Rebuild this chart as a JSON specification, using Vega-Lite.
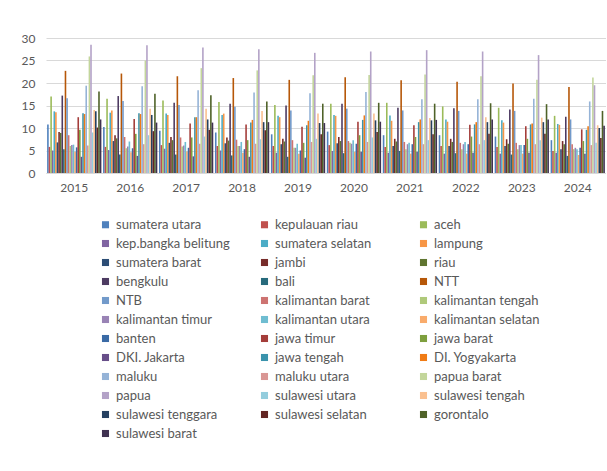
{
"$schema": "https://vega.github.io/schema/vega-lite/v6.json",
"width": 560, "height": 135,
"autosize": {"type": "pad"},
"padding": {"left": 21, "top": 32, "right": 0, "bottom": 0},
"background": "white",
"config": {"view": {"stroke": null}, "font": "Lato"},
"data": {"values": [
{"year":"2015","prov":"sumatera utara","val":10.8},{"year":"2016","prov":"sumatera utara","val":10.2},{"year":"2017","prov":"sumatera utara","val":9.4},{"year":"2018","prov":"sumatera utara","val":9.0},{"year":"2019","prov":"sumatera utara","val":8.6},{"year":"2020","prov":"sumatera utara","val":9.2},{"year":"2021","prov":"sumatera utara","val":8.4},{"year":"2022","prov":"sumatera utara","val":8.4},{"year":"2023","prov":"sumatera utara","val":8.1},{"year":"2024","prov":"sumatera utara","val":7.3},
{"year":"2015","prov":"kepulauan riau","val":5.8},{"year":"2016","prov":"kepulauan riau","val":5.8},{"year":"2017","prov":"kepulauan riau","val":6.2},{"year":"2018","prov":"kepulauan riau","val":6.0},{"year":"2019","prov":"kepulauan riau","val":6.0},{"year":"2020","prov":"kepulauan riau","val":6.2},{"year":"2021","prov":"kepulauan riau","val":5.8},{"year":"2022","prov":"kepulauan riau","val":6.0},{"year":"2023","prov":"kepulauan riau","val":5.8},{"year":"2024","prov":"kepulauan riau","val":4.9},
{"year":"2015","prov":"aceh","val":17.0},{"year":"2016","prov":"aceh","val":16.5},{"year":"2017","prov":"aceh","val":16.1},{"year":"2018","prov":"aceh","val":15.8},{"year":"2019","prov":"aceh","val":15.1},{"year":"2020","prov":"aceh","val":15.4},{"year":"2021","prov":"aceh","val":15.6},{"year":"2022","prov":"aceh","val":14.8},{"year":"2023","prov":"aceh","val":14.5},{"year":"2024","prov":"aceh","val":12.7},
{"year":"2015","prov":"kep.bangka belitung","val":5.0},{"year":"2016","prov":"kep.bangka belitung","val":5.1},{"year":"2017","prov":"kep.bangka belitung","val":5.4},{"year":"2018","prov":"kep.bangka belitung","val":5.0},{"year":"2019","prov":"kep.bangka belitung","val":4.5},{"year":"2020","prov":"kep.bangka belitung","val":4.9},{"year":"2021","prov":"kep.bangka belitung","val":4.5},{"year":"2022","prov":"kep.bangka belitung","val":4.3},{"year":"2023","prov":"kep.bangka belitung","val":4.3},{"year":"2024","prov":"kep.bangka belitung","val":4.5},
{"year":"2015","prov":"sumatera selatan","val":13.7},{"year":"2016","prov":"sumatera selatan","val":13.4},{"year":"2017","prov":"sumatera selatan","val":13.2},{"year":"2018","prov":"sumatera selatan","val":12.9},{"year":"2019","prov":"sumatera selatan","val":12.7},{"year":"2020","prov":"sumatera selatan","val":12.9},{"year":"2021","prov":"sumatera selatan","val":12.8},{"year":"2022","prov":"sumatera selatan","val":11.9},{"year":"2023","prov":"sumatera selatan","val":11.7},{"year":"2024","prov":"sumatera selatan","val":10.9},
{"year":"2015","prov":"lampung","val":13.5},{"year":"2016","prov":"lampung","val":13.9},{"year":"2017","prov":"lampung","val":12.9},{"year":"2018","prov":"lampung","val":13.2},{"year":"2019","prov":"lampung","val":12.4},{"year":"2020","prov":"lampung","val":12.7},{"year":"2021","prov":"lampung","val":11.6},{"year":"2022","prov":"lampung","val":11.4},{"year":"2023","prov":"lampung","val":11.2},{"year":"2024","prov":"lampung","val":10.7},
{"year":"2015","prov":"sumatera barat","val":6.8},{"year":"2016","prov":"sumatera barat","val":7.1},{"year":"2017","prov":"sumatera barat","val":6.7},{"year":"2018","prov":"sumatera barat","val":6.6},{"year":"2019","prov":"sumatera barat","val":6.4},{"year":"2020","prov":"sumatera barat","val":6.6},{"year":"2021","prov":"sumatera barat","val":6.0},{"year":"2022","prov":"sumatera barat","val":6.0},{"year":"2023","prov":"sumatera barat","val":6.0},{"year":"2024","prov":"sumatera barat","val":5.3},
{"year":"2015","prov":"jambi","val":9.1},{"year":"2016","prov":"jambi","val":8.4},{"year":"2017","prov":"jambi","val":8.0},{"year":"2018","prov":"jambi","val":7.9},{"year":"2019","prov":"jambi","val":7.6},{"year":"2020","prov":"jambi","val":8.0},{"year":"2021","prov":"jambi","val":7.6},{"year":"2022","prov":"jambi","val":7.6},{"year":"2023","prov":"jambi","val":7.5},{"year":"2024","prov":"jambi","val":7.1},
{"year":"2015","prov":"riau","val":8.9},{"year":"2016","prov":"riau","val":7.7},{"year":"2017","prov":"riau","val":7.3},{"year":"2018","prov":"riau","val":7.2},{"year":"2019","prov":"riau","val":7.0},{"year":"2020","prov":"riau","val":7.1},{"year":"2021","prov":"riau","val":7.0},{"year":"2022","prov":"riau","val":6.9},{"year":"2023","prov":"riau","val":6.5},{"year":"2024","prov":"riau","val":6.4},
{"year":"2015","prov":"bengkulu","val":17.2},{"year":"2016","prov":"bengkulu","val":17.1},{"year":"2017","prov":"bengkulu","val":15.6},{"year":"2018","prov":"bengkulu","val":15.4},{"year":"2019","prov":"bengkulu","val":15.0},{"year":"2020","prov":"bengkulu","val":15.4},{"year":"2021","prov":"bengkulu","val":14.5},{"year":"2022","prov":"bengkulu","val":14.4},{"year":"2023","prov":"bengkulu","val":14.1},{"year":"2024","prov":"bengkulu","val":12.5},
{"year":"2015","prov":"bali","val":5.3},{"year":"2016","prov":"bali","val":4.1},{"year":"2017","prov":"bali","val":4.1},{"year":"2018","prov":"bali","val":3.9},{"year":"2019","prov":"bali","val":3.6},{"year":"2020","prov":"bali","val":4.4},{"year":"2021","prov":"bali","val":4.9},{"year":"2022","prov":"bali","val":4.4},{"year":"2023","prov":"bali","val":4.1},{"year":"2024","prov":"bali","val":3.8},
{"year":"2015","prov":"NTT","val":22.7},{"year":"2016","prov":"NTT","val":22.1},{"year":"2017","prov":"NTT","val":21.5},{"year":"2018","prov":"NTT","val":21.1},{"year":"2019","prov":"NTT","val":20.7},{"year":"2020","prov":"NTT","val":21.3},{"year":"2021","prov":"NTT","val":20.6},{"year":"2022","prov":"NTT","val":20.3},{"year":"2023","prov":"NTT","val":19.9},{"year":"2024","prov":"NTT","val":19.1},
{"year":"2015","prov":"NTB","val":16.6},{"year":"2016","prov":"NTB","val":16.0},{"year":"2017","prov":"NTB","val":15.1},{"year":"2018","prov":"NTB","val":14.7},{"year":"2019","prov":"NTB","val":13.9},{"year":"2020","prov":"NTB","val":14.3},{"year":"2021","prov":"NTB","val":13.9},{"year":"2022","prov":"NTB","val":13.8},{"year":"2023","prov":"NTB","val":13.8},{"year":"2024","prov":"NTB","val":11.9},
{"year":"2015","prov":"kalimantan barat","val":8.4},{"year":"2016","prov":"kalimantan barat","val":8.0},{"year":"2017","prov":"kalimantan barat","val":7.9},{"year":"2018","prov":"kalimantan barat","val":7.4},{"year":"2019","prov":"kalimantan barat","val":7.3},{"year":"2020","prov":"kalimantan barat","val":7.1},{"year":"2021","prov":"kalimantan barat","val":6.9},{"year":"2022","prov":"kalimantan barat","val":6.7},{"year":"2023","prov":"kalimantan barat","val":6.7},{"year":"2024","prov":"kalimantan barat","val":6.4},
{"year":"2015","prov":"kalimantan tengah","val":6.0},{"year":"2016","prov":"kalimantan tengah","val":5.5},{"year":"2017","prov":"kalimantan tengah","val":5.9},{"year":"2018","prov":"kalimantan tengah","val":6.0},{"year":"2019","prov":"kalimantan tengah","val":5.6},{"year":"2020","prov":"kalimantan tengah","val":6.7},{"year":"2021","prov":"kalimantan tengah","val":5.3},{"year":"2022","prov":"kalimantan tengah","val":5.3},{"year":"2023","prov":"kalimantan tengah","val":5.3},{"year":"2024","prov":"kalimantan tengah","val":5.3},
{"year":"2015","prov":"kalimantan timur","val":6.2},{"year":"2016","prov":"kalimantan timur","val":5.9},{"year":"2017","prov":"kalimantan timur","val":6.1},{"year":"2018","prov":"kalimantan timur","val":6.0},{"year":"2019","prov":"kalimantan timur","val":5.6},{"year":"2020","prov":"kalimantan timur","val":6.5},{"year":"2021","prov":"kalimantan timur","val":6.4},{"year":"2022","prov":"kalimantan timur","val":6.4},{"year":"2023","prov":"kalimantan timur","val":6.2},{"year":"2024","prov":"kalimantan timur","val":5.6},
{"year":"2015","prov":"kalimantan utara","val":6.3},{"year":"2016","prov":"kalimantan utara","val":7.0},{"year":"2017","prov":"kalimantan utara","val":6.9},{"year":"2018","prov":"kalimantan utara","val":6.9},{"year":"2019","prov":"kalimantan utara","val":6.5},{"year":"2020","prov":"kalimantan utara","val":7.3},{"year":"2021","prov":"kalimantan utara","val":6.7},{"year":"2022","prov":"kalimantan utara","val":6.9},{"year":"2023","prov":"kalimantan utara","val":6.2},{"year":"2024","prov":"kalimantan utara","val":5.3},
{"year":"2015","prov":"kalimantan selatan","val":4.7},{"year":"2016","prov":"kalimantan selatan","val":4.6},{"year":"2017","prov":"kalimantan selatan","val":4.8},{"year":"2018","prov":"kalimantan selatan","val":4.5},{"year":"2019","prov":"kalimantan selatan","val":4.3},{"year":"2020","prov":"kalimantan selatan","val":4.7},{"year":"2021","prov":"kalimantan selatan","val":4.3},{"year":"2022","prov":"kalimantan selatan","val":4.3},{"year":"2023","prov":"kalimantan selatan","val":4.3},{"year":"2024","prov":"kalimantan selatan","val":4.0},
{"year":"2015","prov":"banten","val":5.7},{"year":"2016","prov":"banten","val":5.5},{"year":"2017","prov":"banten","val":5.6},{"year":"2018","prov":"banten","val":5.3},{"year":"2019","prov":"banten","val":5.0},{"year":"2020","prov":"banten","val":6.5},{"year":"2021","prov":"banten","val":6.4},{"year":"2022","prov":"banten","val":6.4},{"year":"2023","prov":"banten","val":6.2},{"year":"2024","prov":"banten","val":5.6},
{"year":"2015","prov":"jawa timur","val":12.4},{"year":"2016","prov":"jawa timur","val":12.0},{"year":"2017","prov":"jawa timur","val":11.0},{"year":"2018","prov":"jawa timur","val":10.8},{"year":"2019","prov":"jawa timur","val":10.3},{"year":"2020","prov":"jawa timur","val":11.4},{"year":"2021","prov":"jawa timur","val":10.6},{"year":"2022","prov":"jawa timur","val":10.7},{"year":"2023","prov":"jawa timur","val":10.4},{"year":"2024","prov":"jawa timur","val":9.7},
{"year":"2015","prov":"jawa barat","val":9.6},{"year":"2016","prov":"jawa barat","val":8.7},{"year":"2017","prov":"jawa barat","val":7.9},{"year":"2018","prov":"jawa barat","val":7.3},{"year":"2019","prov":"jawa barat","val":6.7},{"year":"2020","prov":"jawa barat","val":8.4},{"year":"2021","prov":"jawa barat","val":8.0},{"year":"2022","prov":"jawa barat","val":8.1},{"year":"2023","prov":"jawa barat","val":7.6},{"year":"2024","prov":"jawa barat","val":7.1},
{"year":"2015","prov":"DKI. Jakarta","val":3.6},{"year":"2016","prov":"DKI. Jakarta","val":3.8},{"year":"2017","prov":"DKI. Jakarta","val":3.7},{"year":"2018","prov":"DKI. Jakarta","val":3.6},{"year":"2019","prov":"DKI. Jakarta","val":3.4},{"year":"2020","prov":"DKI. Jakarta","val":4.7},{"year":"2021","prov":"DKI. Jakarta","val":4.7},{"year":"2022","prov":"DKI. Jakarta","val":4.5},{"year":"2023","prov":"DKI. Jakarta","val":4.5},{"year":"2024","prov":"DKI. Jakarta","val":4.3},
{"year":"2015","prov":"jawa tengah","val":13.3},{"year":"2016","prov":"jawa tengah","val":13.3},{"year":"2017","prov":"jawa tengah","val":12.4},{"year":"2018","prov":"jawa tengah","val":11.2},{"year":"2019","prov":"jawa tengah","val":10.6},{"year":"2020","prov":"jawa tengah","val":11.8},{"year":"2021","prov":"jawa tengah","val":11.3},{"year":"2022","prov":"jawa tengah","val":10.8},{"year":"2023","prov":"jawa tengah","val":10.8},{"year":"2024","prov":"jawa tengah","val":9.6},
{"year":"2015","prov":"DI. Yogyakarta","val":13.1},{"year":"2016","prov":"DI. Yogyakarta","val":13.1},{"year":"2017","prov":"DI. Yogyakarta","val":12.4},{"year":"2018","prov":"DI. Yogyakarta","val":11.8},{"year":"2019","prov":"DI. Yogyakarta","val":11.6},{"year":"2020","prov":"DI. Yogyakarta","val":12.8},{"year":"2021","prov":"DI. Yogyakarta","val":11.9},{"year":"2022","prov":"DI. Yogyakarta","val":11.3},{"year":"2023","prov":"DI. Yogyakarta","val":11.0},{"year":"2024","prov":"DI. Yogyakarta","val":10.4},
{"year":"2015","prov":"maluku","val":19.4},{"year":"2016","prov":"maluku","val":19.3},{"year":"2017","prov":"maluku","val":18.4},{"year":"2018","prov":"maluku","val":17.9},{"year":"2019","prov":"maluku","val":17.7},{"year":"2020","prov":"maluku","val":18.0},{"year":"2021","prov":"maluku","val":16.4},{"year":"2022","prov":"maluku","val":16.4},{"year":"2023","prov":"maluku","val":16.5},{"year":"2024","prov":"maluku","val":15.9},
{"year":"2015","prov":"maluku utara","val":6.1},{"year":"2016","prov":"maluku utara","val":6.4},{"year":"2017","prov":"maluku utara","val":6.5},{"year":"2018","prov":"maluku utara","val":6.5},{"year":"2019","prov":"maluku utara","val":6.9},{"year":"2020","prov":"maluku utara","val":6.9},{"year":"2021","prov":"maluku utara","val":6.4},{"year":"2022","prov":"maluku utara","val":6.4},{"year":"2023","prov":"maluku utara","val":6.4},{"year":"2024","prov":"maluku utara","val":6.2},
{"year":"2015","prov":"papua barat","val":25.9},{"year":"2016","prov":"papua barat","val":25.0},{"year":"2017","prov":"papua barat","val":23.3},{"year":"2018","prov":"papua barat","val":22.8},{"year":"2019","prov":"papua barat","val":21.7},{"year":"2020","prov":"papua barat","val":21.8},{"year":"2021","prov":"papua barat","val":21.9},{"year":"2022","prov":"papua barat","val":21.5},{"year":"2023","prov":"papua barat","val":20.7},{"year":"2024","prov":"papua barat","val":21.2},
{"year":"2015","prov":"papua","val":28.5},{"year":"2016","prov":"papua","val":28.4},{"year":"2017","prov":"papua","val":27.9},{"year":"2018","prov":"papua","val":27.5},{"year":"2019","prov":"papua","val":26.7},{"year":"2020","prov":"papua","val":27.0},{"year":"2021","prov":"papua","val":27.3},{"year":"2022","prov":"papua","val":27.0},{"year":"2023","prov":"papua","val":26.2},{"year":"2024","prov":"papua","val":19.5},
{"year":"2015","prov":"sulawesi utara","val":9.0},{"year":"2016","prov":"sulawesi utara","val":8.4},{"year":"2017","prov":"sulawesi utara","val":8.1},{"year":"2018","prov":"sulawesi utara","val":7.5},{"year":"2019","prov":"sulawesi utara","val":7.6},{"year":"2020","prov":"sulawesi utara","val":7.9},{"year":"2021","prov":"sulawesi utara","val":7.3},{"year":"2022","prov":"sulawesi utara","val":7.3},{"year":"2023","prov":"sulawesi utara","val":7.3},{"year":"2024","prov":"sulawesi utara","val":6.7},
{"year":"2015","prov":"sulawesi tengah","val":14.0},{"year":"2016","prov":"sulawesi tengah","val":14.3},{"year":"2017","prov":"sulawesi tengah","val":14.3},{"year":"2018","prov":"sulawesi tengah","val":13.8},{"year":"2019","prov":"sulawesi tengah","val":13.2},{"year":"2020","prov":"sulawesi tengah","val":13.2},{"year":"2021","prov":"sulawesi tengah","val":12.2},{"year":"2022","prov":"sulawesi tengah","val":12.4},{"year":"2023","prov":"sulawesi tengah","val":12.3},{"year":"2024","prov":"sulawesi tengah","val":10.6},
{"year":"2015","prov":"sulawesi tenggara","val":13.7},{"year":"2016","prov":"sulawesi tenggara","val":12.9},{"year":"2017","prov":"sulawesi tenggara","val":11.9},{"year":"2018","prov":"sulawesi tenggara","val":11.3},{"year":"2019","prov":"sulawesi tenggara","val":11.1},{"year":"2020","prov":"sulawesi tenggara","val":11.7},{"year":"2021","prov":"sulawesi tenggara","val":11.7},{"year":"2022","prov":"sulawesi tenggara","val":11.3},{"year":"2023","prov":"sulawesi tenggara","val":11.3},{"year":"2024","prov":"sulawesi tenggara","val":10.0},
{"year":"2015","prov":"sulawesi selatan","val":10.1},{"year":"2016","prov":"sulawesi selatan","val":9.3},{"year":"2017","prov":"sulawesi selatan","val":9.6},{"year":"2018","prov":"sulawesi selatan","val":9.5},{"year":"2019","prov":"sulawesi selatan","val":8.6},{"year":"2020","prov":"sulawesi selatan","val":9.1},{"year":"2021","prov":"sulawesi selatan","val":8.6},{"year":"2022","prov":"sulawesi selatan","val":8.7},{"year":"2023","prov":"sulawesi selatan","val":8.7},{"year":"2024","prov":"sulawesi selatan","val":7.8},
{"year":"2015","prov":"gorontalo","val":18.1},{"year":"2016","prov":"gorontalo","val":17.6},{"year":"2017","prov":"gorontalo","val":17.3},{"year":"2018","prov":"gorontalo","val":15.9},{"year":"2019","prov":"gorontalo","val":15.4},{"year":"2020","prov":"gorontalo","val":15.6},{"year":"2021","prov":"gorontalo","val":15.4},{"year":"2022","prov":"gorontalo","val":15.5},{"year":"2023","prov":"gorontalo","val":15.3},{"year":"2024","prov":"gorontalo","val":13.8},
{"year":"2015","prov":"sulawesi barat","val":11.9},{"year":"2016","prov":"sulawesi barat","val":11.2},{"year":"2017","prov":"sulawesi barat","val":11.2},{"year":"2018","prov":"sulawesi barat","val":11.3},{"year":"2019","prov":"sulawesi barat","val":11.1},{"year":"2020","prov":"sulawesi barat","val":11.4},{"year":"2021","prov":"sulawesi barat","val":11.8},{"year":"2022","prov":"sulawesi barat","val":11.9},{"year":"2023","prov":"sulawesi barat","val":11.9},{"year":"2024","prov":"sulawesi barat","val":10.5}
]},
"mark": {"type": "bar"},
"encoding": {
  "x": {"field": "year", "type": "ordinal", "scale": {"paddingInner": 0.03, "paddingOuter": 0.02},
        "axis": {"title": null, "labelAngle": 0, "domainColor": "#D9D9D9", "ticks": false, "labelPadding": 9, "labelFont": "Lato", "labelFontSize": 12, "labelColor": "#595959"}},
  "xOffset": {"field": "prov", "type": "nominal", "scale": {"paddingInner": 0, "paddingOuter": 0},
    "sort": ["sumatera utara","kepulauan riau","aceh","kep.bangka belitung","sumatera selatan","lampung","sumatera barat","jambi","riau","bengkulu","bali","NTT","NTB","kalimantan barat","kalimantan tengah","kalimantan timur","kalimantan utara","kalimantan selatan","banten","jawa timur","jawa barat","DKI. Jakarta","jawa tengah","DI. Yogyakarta","maluku","maluku utara","papua barat","papua","sulawesi utara","sulawesi tengah","sulawesi tenggara","sulawesi selatan","gorontalo","sulawesi barat"]},
  "y": {"field": "val", "type": "quantitative", "scale": {"domain": [0, 30]},
        "axis": {"title": null, "values": [0,5,10,15,20,25,30], "domain": false, "ticks": false, "labelPadding": 11, "gridColor": "#D9D9D9", "labelFont": "Lato", "labelFontSize": 12, "labelColor": "#595959"}},
  "color": {"field": "prov", "type": "nominal",
    "scale": {"domain": ["sumatera utara","kepulauan riau","aceh","kep.bangka belitung","sumatera selatan","lampung","sumatera barat","jambi","riau","bengkulu","bali","NTT","NTB","kalimantan barat","kalimantan tengah","kalimantan timur","kalimantan utara","kalimantan selatan","banten","jawa timur","jawa barat","DKI. Jakarta","jawa tengah","DI. Yogyakarta","maluku","maluku utara","papua barat","papua","sulawesi utara","sulawesi tengah","sulawesi tenggara","sulawesi selatan","gorontalo","sulawesi barat"],
      "range": ["#4F81BD","#C0504D","#9BBB59","#8064A2","#4BACC6","#F79646","#2C4D75","#772C2A","#5F7530","#4D3B62","#276A7C","#B65708","#729ACA","#CD7371","#AFC97A","#9983B5","#6FBDD1","#F9AB6B","#3A6AA5","#A43D3A","#7E9F3E","#674E89","#3A93AC","#F07B15","#95B3D7","#D99694","#C3D69B","#B3A2C7","#93CDDD","#FAC090","#254061","#632523","#4F6228","#3F3151"]},
    "legend": {"title": null, "orient": "none", "direction": "horizontal", "legendX": 53, "legendY": 180, "columns": 3, "gridAlign": "all", "columnPadding": 28, "rowPadding": 5, "symbolLimit": 100,
      "symbolType": "square", "symbolSize": 50, "symbolStrokeWidth": 0, "labelOffset": 4, "labelFont": "Lato", "labelFontSize": 13, "labelColor": "#595959", "labelLimit": 200}}
}
}
